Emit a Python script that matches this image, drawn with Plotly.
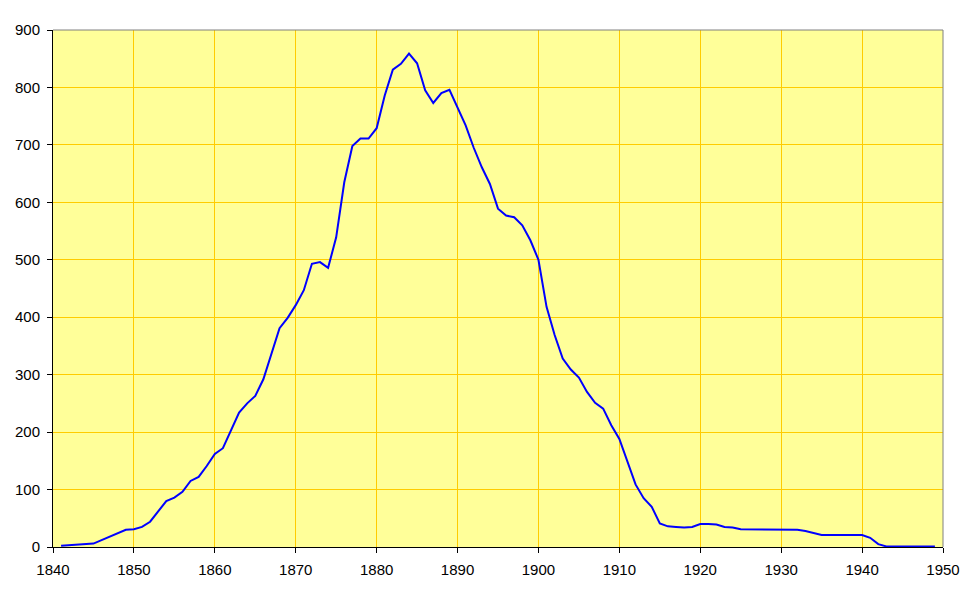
import plotly.graph_objects as go

years = list(range(1841, 1950))
values = [
    2, 3, 4, 5, 6, 12, 18, 24, 30, 31,          # 1841-1850
    35, 44, 61, 80, 86, 96, 115, 122, 141, 162,  # 1851-1860
    172, 203, 234, 250, 263, 292, 338, 381, 399, 421,  # 1861-1870
    447, 493, 496, 486, 539, 635, 698, 711, 711, 729,  # 1871-1880
    786, 831, 841, 859, 842, 795, 773, 790, 796, 765,  # 1881-1890
    734, 695, 661, 632, 589, 577, 574, 560, 534, 500,  # 1891-1900
    418, 369, 328, 309, 295, 270, 251, 241, 212, 188,  # 1901-1910
    150, 109, 85, 70, 41, 36, 35, 34, 35, 40,          # 1911-1920
    40, 39, 35, 34, 31, 31, 31, 31, 31, 31,            # 1921-1930
    31, 30, 28, 25, 21, 21, 21, 21, 21, 21,            # 1931-1940
    16, 5, 1, 1, 1, 1, 1, 1, 1,                        # 1941-1949
]

x_ticks = list(range(1840, 1951, 10))
y_ticks = list(range(0, 901, 100))

fig = go.Figure()
fig.add_trace(go.Scatter(
    x=years, y=values, mode="lines",
    line=dict(color="#0000FF", width=2),
    hoverinfo="x+y", showlegend=False,
))

axis_font = dict(family="Liberation Sans, Arial, sans-serif", size=15, color="black")

fig.update_layout(
    width=969, height=592,
    margin=dict(l=45, r=34, t=22, b=53, autoexpand=False),
    paper_bgcolor="white",
    plot_bgcolor="#FFFF99",
    font=axis_font,
    xaxis=dict(
        range=[1840, 1950], tickvals=x_ticks, ticktext=[str(t) for t in x_ticks],
        showgrid=True, gridcolor="#FFCC00", gridwidth=1,
        showline=True, linecolor="black", linewidth=1,
        ticks="outside", ticklen=5, tickcolor="black", tickwidth=1,
        zeroline=False, tickfont=axis_font, ticklabelstandoff=4,
        automargin=False,
    ),
    yaxis=dict(
        range=[0, 900], tickvals=y_ticks, ticktext=[str(t) for t in y_ticks],
        showgrid=True, gridcolor="#FFCC00", gridwidth=1,
        showline=True, linecolor="black", linewidth=1,
        ticks="outside", ticklen=5, tickcolor="black", tickwidth=1,
        zeroline=False, tickfont=axis_font, ticklabelstandoff=4,
        automargin=False,
    ),
    shapes=[
        dict(type="line", xref="paper", yref="paper", x0=0, x1=1, y0=1, y1=1,
             line=dict(color="#808080", width=1)),
        dict(type="line", xref="paper", yref="paper", x0=1, x1=1, y0=0, y1=1,
             line=dict(color="#808080", width=1)),
    ],
)

fig.write_html("out.html")
